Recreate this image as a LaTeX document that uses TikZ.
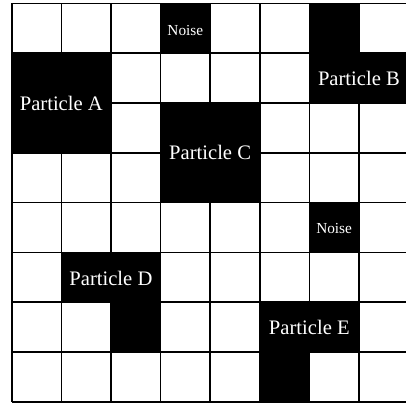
\documentclass[tikz,border=0pt]{standalone}
\usepackage{fontspec}
\setmainfont{Liberation Serif}
\begin{document}
\begin{tikzpicture}[x=1pt,y=-1pt,
  gridline/.style={draw=black,line width=1.6pt},
  big/.style={text=white,font=\fontsize{20.6}{24}\selectfont,inner sep=0pt},
  small/.style={text=white,font=\fontsize{15.3}{18}\selectfont,inner sep=0pt}]
\def\xo{11.7}\def\yo{3.3}\def\cw{49.6}\def\ch{49.8}
\useasboundingbox (0,0) rectangle (406,405);
\clip (0,0) rectangle (406,405);
\fill[white] (0,0) rectangle (406,405);
\foreach \r/\c in {0/3,0/6,1/0,1/1,1/6,1/7,2/0,2/1,2/3,2/4,3/3,3/4,4/6,5/1,5/2,6/2,6/5,6/6,7/5}
  \fill[black] ({\xo+\c*\cw},{\yo+\r*\ch}) rectangle ++(\cw,\ch);
\foreach \i in {0,...,8} {
  \draw[gridline] ({\xo+\i*\cw},\yo) -- ({\xo+\i*\cw},{\yo+8*\ch});
  \draw[gridline] (\xo,{\yo+\i*\ch}) -- ({\xo+8*\cw},{\yo+\i*\ch});
}
\node[small] (n1) at ({\xo+3.5*\cw},{\yo+0.5*\ch+2}) {Noise};
\node[small] (n2) at ({\xo+6.5*\cw},{\yo+4.5*\ch+1}) {Noise};
\node[big] (pa) at ({\xo+1*\cw},{\yo+2*\ch+1}) {Particle A};
\node[big] (pb) at ({\xo+7*\cw},{\yo+1.5*\ch}) {Particle B};
\node[big] (pc) at ({\xo+4*\cw},{\yo+3*\ch}) {Particle C};
\node[big] (pd) at ({\xo+2*\cw},{\yo+5.5*\ch+1}) {Particle D};
\node[big] (pe) at ({\xo+6*\cw},{\yo+6.5*\ch}) {Particle E};
\end{tikzpicture}
\end{document}
